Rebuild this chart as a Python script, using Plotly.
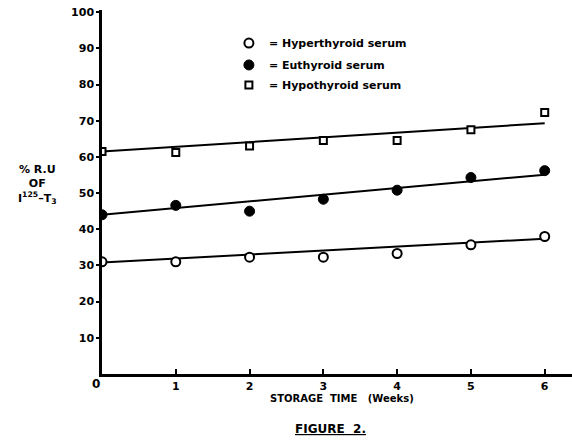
import plotly.graph_objects as go

weeks = [0, 1, 2, 3, 4, 5, 6]
hyper = [31.0, 31.0, 32.3, 32.3, 33.3, 35.7, 38.0]
euthy = [44.0, 46.6, 45.0, 48.3, 50.8, 54.3, 56.2]
hypo = [61.5, 61.2, 63.0, 64.5, 64.5, 67.5, 72.3]

# fitted lines (intercept, slope)
fit_hyper = (30.8, 1.1)
fit_euthy = (44.0, 1.85)
fit_hypo = (61.5, 1.3)

names = ["= Hyperthyroid serum", "= Euthyroid serum", "= Hypothyroid serum"]
yticks = [10, 20, 30, 40, 50, 60, 70, 80, 90, 100]
xticks = [1, 2, 3, 4, 5, 6]

FONT = "DejaVu Sans"
fig = go.Figure()

for fit in (fit_hyper, fit_euthy, fit_hypo):
    ys = [fit[0] + fit[1] * w for w in (weeks[0], weeks[-1])]
    fig.add_trace(go.Scatter(x=[weeks[0], weeks[-1]], y=ys, mode="lines",
                             line=dict(color="black", width=2), showlegend=False,
                             hoverinfo="skip"))

styles = [
    dict(symbol="circle", size=9, color="white", line=dict(color="black", width=2)),
    dict(symbol="circle", size=10, color="black", line=dict(color="black", width=1)),
    dict(symbol="square", size=7, color="white", line=dict(color="black", width=2)),
]
legend_ids = ["legend", "legend2", "legend3"]
for ys, nm, st, lg in zip((hyper, euthy, hypo), names, styles, legend_ids):
    fig.add_trace(go.Scatter(x=weeks, y=ys, mode="markers", marker=st, name=nm,
                             legend=lg))

fig.add_annotation(x=0, y=0, xref="x", yref="y", text="0", showarrow=False,
                   xanchor="right", yanchor="top", xshift=0, yshift=-1,
                   font=dict(family=FONT, size=12, color="black", weight="bold"))
fig.add_annotation(x=-0.138, y=0.52, xref="paper", yref="paper", showarrow=False,
                   xanchor="center", yanchor="middle", align="center",
                   text="% R.U<br>OF<br>I<sup>125</sup>–T<sub>3</sub>",
                   font=dict(family=FONT, size=11, color="black", weight="bold"))
fig.add_annotation(x=0.51, y=-0.068, xref="paper", yref="paper", showarrow=False,
                   xanchor="center", yanchor="middle",
                   text="STORAGE  TIME   (Weeks)",
                   font=dict(family=FONT, size=10, color="black", weight="bold"))
fig.add_annotation(x=0.487, y=-0.15, xref="paper", yref="paper", showarrow=False,
                   xanchor="center", yanchor="middle",
                   text="<u>FIGURE  2.</u>",
                   font=dict(family=FONT, size=12, color="black", weight="bold"))

leg_common = dict(x=0.27, xanchor="left", yanchor="middle",
                  bgcolor="rgba(0,0,0,0)", font=dict(size=11, weight="bold"),
                  itemwidth=30)
fig.update_layout(
    width=572, height=441,
    margin=dict(l=102, r=0, t=10, b=67),
    paper_bgcolor="white", plot_bgcolor="white",
    font=dict(family=FONT, color="black", size=11, weight="bold"),
    showlegend=True,
    legend=dict(y=0.909, **leg_common),
    legend2=dict(y=0.849, **leg_common),
    legend3=dict(y=0.794, **leg_common),
    xaxis=dict(range=[0, 6.37], showline=True, linecolor="black", linewidth=2.5,
               tickvals=xticks, ticktext=[str(v) for v in xticks],
               ticks="inside", ticklen=5, tickwidth=2, tickcolor="black",
               showgrid=False, zeroline=False,
               tickfont=dict(family=FONT, size=11, weight="bold")),
    yaxis=dict(range=[0, 100.6], showline=True, linecolor="black", linewidth=2.5,
               tickvals=yticks, ticktext=[str(v) for v in yticks],
               ticks="outside", ticklen=3, tickwidth=2, tickcolor="black",
               showgrid=False, zeroline=False,
               tickfont=dict(family=FONT, size=11, weight="bold")),
)

fig.write_html("out.html")
